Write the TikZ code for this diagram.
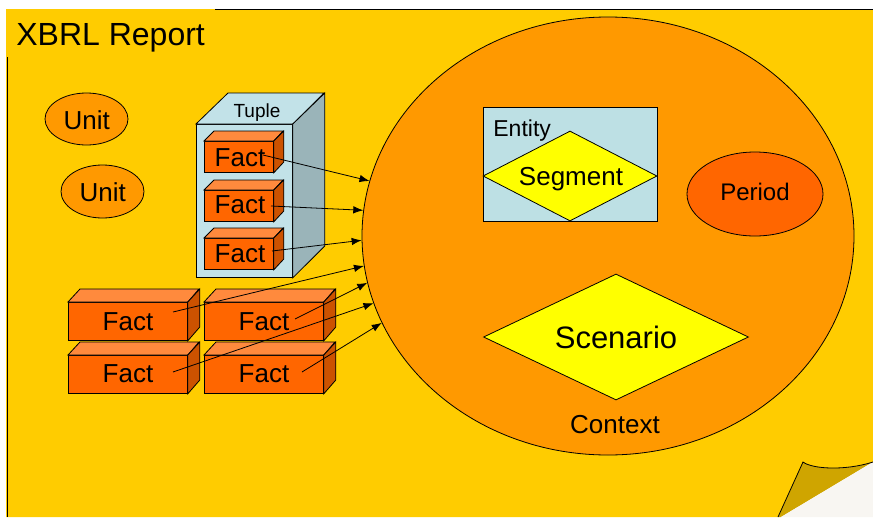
\documentclass[tikz,border=0pt]{standalone}
\usepackage{fontspec}
\setmainfont{Liberation Sans}
\usetikzlibrary{shapes.geometric,arrows.meta}
\definecolor{pageyel}{HTML}{FFCC00}
\definecolor{ctxorange}{HTML}{FF9900}
\definecolor{darkorange}{HTML}{FF6600}
\definecolor{facttopc}{HTML}{FF8A3D}
\definecolor{factsidec}{HTML}{CC5200}
\definecolor{tuplefrontc}{HTML}{C2E2E8}
\definecolor{tuplesidec}{HTML}{9AB4B9}
\definecolor{entityc}{HTML}{BDE0E4}
\definecolor{diamondc}{HTML}{FFFF00}
\definecolor{foldc}{HTML}{CFA500}
\definecolor{cornerc}{HTML}{F8F6F2}
\newcommand\mybrick[7]{%
  \node[factfront, minimum width=#4pt, minimum height=#5pt, anchor=north west] (#1) at (#2,#3) {};
  \filldraw[facttop] (#1.north west) -- ++(#6,-#7) -- ++(#4,0) -- (#1.north east) -- cycle;
  \filldraw[factside] (#1.north east) -- ++(#6,-#7) -- ++(0,#5) -- (#1.south east) -- cycle;
}
\begin{document}
\begin{tikzpicture}[x=1pt,y=-1pt,
  every path/.style={line width=0.8pt},
  factfront/.style={draw, fill=darkorange, inner sep=0pt},
  facttop/.style={fill=facttopc, draw},
  factside/.style={fill=factsidec, draw},
  txt/.style={inner sep=0pt, anchor=base},
  fA/.style={font=\fontsize{26}{30}\selectfont},
  arr/.style={-{Latex[length=10pt,width=7.5pt]}, line width=0.8pt}]
\useasboundingbox (0,0) rectangle (873,517);
\fill[white] (0,0) rectangle (873,517);
% page
\fill[pageyel] (6,9) -- (873,9) -- (873,462) .. controls (845,471) and (812,469) .. (803,462) -- (778,517) -- (6,517) -- cycle;
\fill[foldc] (803,462) .. controls (812,469) and (845,471) .. (873,462) -- (781,517) -- (778,517) -- cycle;
\fill[cornerc] (781,517) -- (873,462) -- (873,517) -- cycle;
\draw (778,517) -- (803,462) .. controls (812,469) and (845,471) .. (873,462);
\draw (215,9) -- (873,9);
\draw (7,57) -- (7,517);
\node[txt, anchor=base west, font=\fontsize{32}{38}\selectfont] (title) at (16,45.5) {XBRL Report};
% context
\node[ellipse, draw, fill=ctxorange, minimum width=492pt, minimum height=438pt, inner sep=0pt] (ctx) at (608,236) {};
\node[draw, fill=entityc, minimum width=174pt, minimum height=114pt, inner sep=0pt] (entity) at (570,164) {};
\node[diamond, draw, fill=diamondc, minimum width=174pt, minimum height=90pt, inner sep=0pt] (segment) at (570,176) {};
\node[txt, anchor=base west, font=\fontsize{23}{27}\selectfont] (entitytxt) at (493,136) {Entity};
\node[txt, fA] (segtxt) at (571,185) {Segment};
\node[ellipse, draw, fill=darkorange, minimum width=136pt, minimum height=84pt, inner sep=0pt] (period) at (755,194) {};
\node[txt, font=\fontsize{24}{28}\selectfont] (periodtxt) at (755,200) {Period};
\node[diamond, draw, fill=diamondc, minimum width=265pt, minimum height=126pt, inner sep=0pt] (scen) at (616,337) {};
\node[txt, font=\fontsize{31}{36}\selectfont] (scentxt) at (616,348) {Scenario};
\node[txt, fA] (ctxtxt) at (615,433) {Context};
% units
\node[ellipse, draw, fill=ctxorange, minimum width=83pt, minimum height=52pt, inner sep=0pt] (unit1) at (86.5,119) {};
\node[txt, fA] (unit1txt) at (86.7,129) {Unit};
\node[ellipse, draw, fill=ctxorange, minimum width=83pt, minimum height=53pt, inner sep=0pt] (unit2) at (102.5,191.5) {};
\node[txt, fA] (unit2txt) at (102.7,201) {Unit};
% tuple
\node[draw, fill=tuplefrontc, minimum width=96pt, minimum height=153pt, inner sep=0pt, anchor=north west] (tuple) at (196,124) {};
\filldraw[fill=tuplefrontc] (tuple.north west) -- ++(32,-31) -- ++(96,0) -- (tuple.north east) -- cycle;
\filldraw[fill=tuplesidec] (tuple.north east) -- ++(32,-31) -- ++(0,153) -- (tuple.south east) -- cycle;
\node[txt, font=\fontsize{19}{23}\selectfont] (tupletxt) at (257,117) {Tuple};
\mybrick{tf1}{204}{141}{69}{31}{10}{10}
\mybrick{tf2}{204}{190}{69}{31}{10}{10}
\mybrick{tf3}{204}{238}{69}{31}{10}{10}
\node[txt, fA] (tf1txt) at (240,166) {Fact};
\node[txt, fA] (tf2txt) at (240,213) {Fact};
\node[txt, fA] (tf3txt) at (240,262) {Fact};
% loose facts
\mybrick{bf1}{68}{302}{119}{38}{12}{13}
\mybrick{bf2}{204}{302}{119}{38}{12}{13}
\mybrick{bf3}{68}{355}{119}{38}{12}{13}
\mybrick{bf4}{204}{355}{119}{38}{12}{13}
\node[txt, fA] (bf1txt) at (128,330) {Fact};
\node[txt, fA] (bf2txt) at (264,330) {Fact};
\node[txt, fA] (bf3txt) at (128,382) {Fact};
\node[txt, fA] (bf4txt) at (264,382) {Fact};
% arrows
\coordinate (s1) at (263,155);
\coordinate (s2) at (271,206);
\coordinate (s3) at (272,251);
\coordinate (s4) at (173,312);
\coordinate (s5) at (295,319);
\coordinate (s6) at (173,372);
\coordinate (s7) at (302,372);
\draw[arr] (s1) -- (ctx.167.2);
\draw[arr] (s2) -- (ctx.174.5);
\draw[arr] (s3) -- (ctx.181.9);
\draw[arr] (s4) -- (ctx.187.5);
\draw[arr] (s5) -- (ctx.191.8);
\draw[arr] (s6) -- (ctx.196.2);
\draw[arr] (s7) -- (ctx.201.8);
\end{tikzpicture}
\end{document}
